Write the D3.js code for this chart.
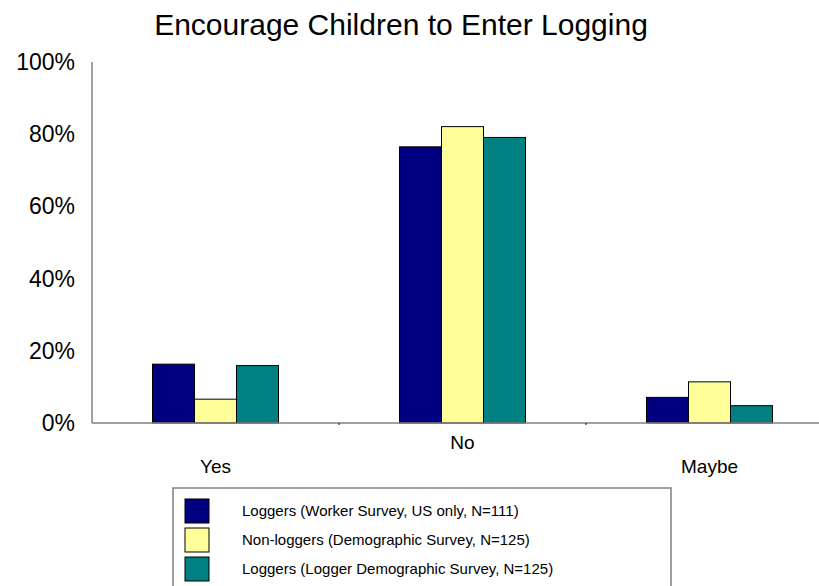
<!DOCTYPE html>
<html>
<head>
<meta charset="utf-8">
<script src="https://cdn.jsdelivr.net/npm/d3@7"></script>
<style>
  body { margin: 0; background: #fff; }
  svg { display: block; font-family: "Liberation Sans", Arial, sans-serif; }
</style>
</head>
<body>
<div id="chart"></div>
<script>
// Chart data (fractions of respondents)
const categories = ["Yes", "No", "Maybe"];
const seriesNames = [
    "Loggers (Worker Survey, US only, N=111)",
    "Non-loggers (Demographic Survey, N=125)",
    "Loggers (Logger Demographic Survey, N=125)"
];
const workerSurvey = [0.163, 0.765, 0.071];
const nonLoggers = [0.066, 0.821, 0.114];
const loggerDemographic = [0.159, 0.791, 0.048];
const yTicks = [0, 0.2, 0.4, 0.6, 0.8, 1.0];
const colors = ["#000080", "#ffff99", "#008080"];

const seriesValues = [workerSurvey, nonLoggers, loggerDemographic];

// SVG dimensions
const svgWidth = 819;
const svgHeight = 586;
const plotLeft = 92;
const plotTop = 62;
const plotBottom = 423;
const catWidth = 247;

const svg = d3.select("#chart").append("svg")
    .attr("width", svgWidth)
    .attr("height", svgHeight);

// Scales
const x0 = d3.scaleBand()
    .domain(categories)
    .range([plotLeft, plotLeft + catWidth * categories.length])
    .padding(0);

const x1 = d3.scaleBand()
    .domain(d3.range(seriesNames.length))
    .range([0, x0.bandwidth()])
    .paddingInner(0)
    .paddingOuter(1.44);

const y = d3.scaleLinear()
    .domain([0, 1])
    .range([plotBottom, plotTop]);

// Title
svg.append("text")
    .attr("x", 401)
    .attr("y", 35)
    .attr("text-anchor", "middle")
    .style("font-size", "30px")
    .style("fill", "#000")
    .text("Encourage Children to Enter Logging");

// Y axis tick labels
svg.selectAll(".ylabel")
    .data(yTicks)
    .enter().append("text")
    .attr("class", "ylabel")
    .attr("x", 75)
    .attr("y", d => y(d))
    .attr("dy", "0.35em")
    .attr("text-anchor", "end")
    .style("font-size", "23px")
    .text(d3.format(".0%"));

// Bars
const groups = svg.selectAll(".group")
    .data(categories)
    .enter().append("g")
    .attr("class", "group")
    .attr("transform", d => "translate(" + x0(d) + ",0)");

groups.selectAll("rect")
    .data((d, ci) => seriesValues.map((vals, si) => ({ si: si, v: vals[ci] })))
    .enter().append("rect")
    .attr("x", d => x1(d.si))
    .attr("y", d => y(d.v))
    .attr("width", x1.bandwidth())
    .attr("height", d => y(0) - y(d.v))
    .style("fill", d => colors[d.si])
    .style("stroke", "#000")
    .style("stroke-width", 1);

// Axes lines
svg.append("line")
    .attr("x1", plotLeft).attr("x2", svgWidth)
    .attr("y1", y(0)).attr("y2", y(0))
    .style("stroke", "#808080")
    .style("stroke-width", 1.5);

svg.append("line")
    .attr("x1", plotLeft).attr("x2", plotLeft)
    .attr("y1", plotTop).attr("y2", y(0))
    .style("stroke", "#808080")
    .style("stroke-width", 1.5);

// small ticks between categories
svg.selectAll(".xtick")
    .data(categories.slice(1))
    .enter().append("line")
    .attr("class", "xtick")
    .attr("x1", d => x0(d)).attr("x2", d => x0(d))
    .attr("y1", y(0)).attr("y2", y(0) + 2)
    .style("stroke", "#000");

// Category labels (staggered like the original)
svg.selectAll(".xlabel")
    .data(categories)
    .enter().append("text")
    .attr("class", "xlabel")
    .attr("x", d => x0(d) + x0.bandwidth() / 2)
    .attr("y", (d, i) => i % 2 === 1 ? 449 : 473)
    .attr("text-anchor", "middle")
    .style("font-size", "19px")
    .text(d => d);

// Legend
const legend = svg.append("g")
    .attr("transform", "translate(173,488)");

legend.append("rect")
    .attr("width", 498)
    .attr("height", 110)
    .style("fill", "#fff")
    .style("stroke", "#808080")
    .style("stroke-width", 1.5);

const items = legend.selectAll(".item")
    .data(seriesNames)
    .enter().append("g")
    .attr("class", "item")
    .attr("transform", (d, i) => "translate(12," + (11 + i * 29) + ")");

items.append("rect")
    .attr("width", 24)
    .attr("height", 24)
    .style("fill", (d, i) => colors[i])
    .style("stroke", "#000")
    .style("stroke-width", 1);

items.append("text")
    .attr("x", 57)
    .attr("y", 12)
    .attr("dy", "0.35em")
    .style("font-size", "15px")
    .text(d => d);
</script>
</body>
</html>
